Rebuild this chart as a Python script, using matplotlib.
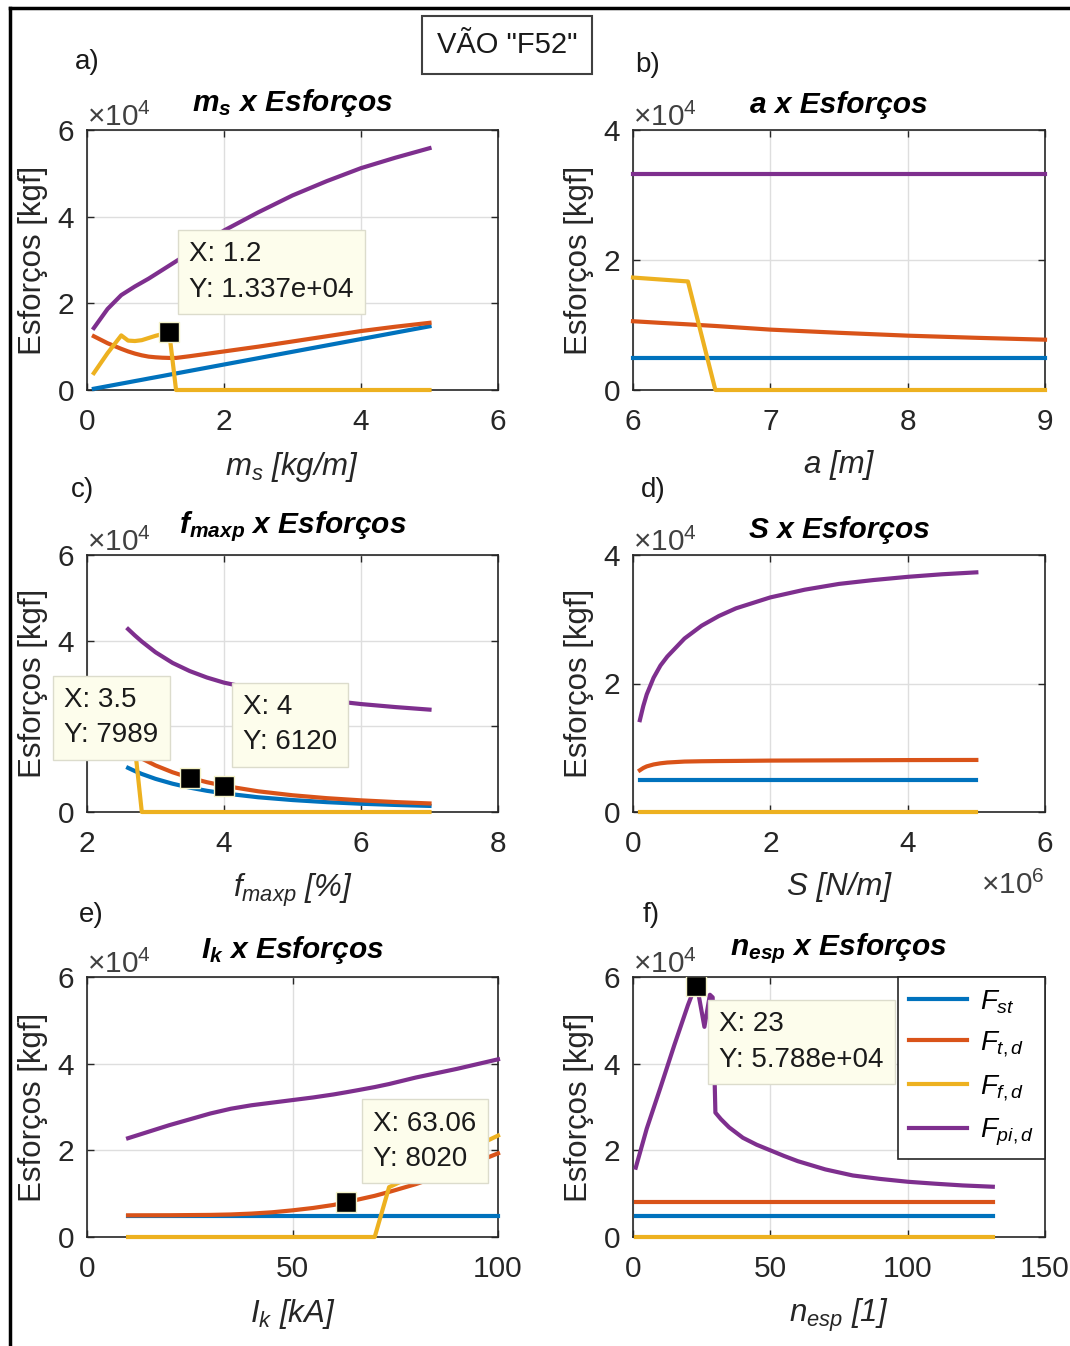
import matplotlib
matplotlib.use("Agg")
import matplotlib.pyplot as plt
from matplotlib.ticker import ScalarFormatter
from matplotlib.lines import Line2D

plt.rcParams['font.family'] = ['Liberation Sans', 'DejaVu Sans']
plt.rcParams['mathtext.fontset'] = 'custom'
plt.rcParams['mathtext.rm'] = 'Liberation Sans'
plt.rcParams['mathtext.it'] = 'Liberation Sans:italic'
plt.rcParams['mathtext.bf'] = 'Liberation Sans:bold'
plt.rcParams['mathtext.bfit'] = 'Liberation Sans:italic:bold'

# ---- data (kgf) ----
# a) m_s [kg/m]
ms = [0.1, 0.3, 0.5, 0.6, 0.7, 0.8, 0.9, 1.0, 1.1, 1.2, 1.3, 1.5, 2.0, 2.5, 3.0, 3.5, 4.0, 4.5, 5.0]
ms_st = [290, 880, 1470, 1760, 2060, 2350, 2650, 2940, 3230, 3530, 3820, 4410, 5880, 7350, 8820, 10290, 11760, 13230, 14700]
ms_td = [12400, 10800, 9500, 8900, 8400, 8000, 7700, 7550, 7450, 7400, 7400, 7800, 8900, 10000, 11200, 12400, 13600, 14600, 15500]
ms_fd = [3900, 8500, 12600, 11400, 11300, 11500, 12000, 12500, 12900, 13370, 0, 0, 0, 0, 0, 0, 0, 0, 0]
ms_pi = [14300, 18700, 21900, 22900, 23900, 24800, 25700, 26700, 27700, 28700, 29700, 31700, 36800, 41000, 44900, 48200, 51200, 53600, 55800]

# b) a [m]
a_m = [6.0, 6.2, 6.4, 6.6, 7.0, 7.5, 8.0, 8.5, 9.0]
a_st = [4950] * 9
a_td = [10580, 10330, 10100, 9850, 9290, 8800, 8360, 8030, 7740]
a_fd = [17300, 17000, 16700, 0, 0, 0, 0, 0, 0]
a_pi = [33300] * 9

# c) f_maxp [%]
fm = [2.6, 2.7, 2.8, 3.0, 3.25, 3.5, 3.75, 4.0, 4.5, 5.0, 5.5, 6.0, 6.5, 7.0]
fm_st = [10300, 9550, 8880, 7740, 6600, 5690, 4950, 4350, 3440, 2790, 2300, 1930, 1650, 1420]
fm_td = [14480, 13430, 12480, 10870, 9270, 7989, 6960, 6120, 4830, 3910, 3230, 2720, 2320, 2000]
fm_fd = [16000, 15000, 0, 0, 0, 0, 0, 0, 0, 0, 0, 0, 0, 0]
fm_pi = [42700, 41200, 39800, 37300, 34800, 32900, 31400, 30200, 28500, 27200, 26100, 25200, 24500, 23900]

# d) S [N/m]
S = [0.1e6, 0.15e6, 0.2e6, 0.3e6, 0.4e6, 0.5e6, 0.75e6, 1.0e6, 1.25e6, 1.5e6, 2.0e6, 2.5e6, 3.0e6,
     3.5e6, 4.0e6, 4.5e6, 5.0e6]
S_st = [4950] * 17
S_td = [6500, 6850, 7100, 7400, 7580, 7700, 7850, 7900, 7930, 7950, 8000, 8020, 8040, 8060, 8080, 8090, 8100]
S_fd = [0] * 17
S_pi = [14300, 16500, 18300, 20900, 22800, 24200, 27000, 29000, 30500, 31700, 33400, 34600, 35500,
        36100, 36600, 37000, 37300]

# e) I_k [kA]
ik = [10, 20, 30, 35, 40, 45, 50, 55, 60, 63.06, 66, 70, 73.5, 80, 90, 100]
ik_st = [4950] * 16
ik_td = [5000, 5020, 5100, 5200, 5400, 5700, 6150, 6700, 7400, 8020, 8650, 9500, 10400, 12200, 15500, 19300]
ik_fd = [0, 0, 0, 0, 0, 0, 0, 0, 0, 0, 0, 0, 11500, 14400, 18900, 23400]
ik_pi = [22800, 25800, 28500, 29600, 30400, 31000, 31600, 32200, 32900, 33400, 33900, 34600, 35300,
         36800, 38800, 41000]

# f) n_esp [1]
ne = [1, 5, 10, 15, 20, 22, 23, 24, 26, 28, 29, 30, 32, 35, 40, 45, 50, 55, 60, 70, 80, 90, 100, 110, 120, 131]
ne_st = [4950] * 26
ne_td = [8000] * 26
ne_fd = [0] * 26
ne_pi = [16000, 25000, 34500, 44200, 53500, 56800, 57880, 55500, 48500, 55900, 55300, 28700, 27200,
         25300, 22900, 21300, 20000, 18700, 17500, 15600, 14200, 13400, 12750, 12300, 11900, 11600]

# data tips (x, y)
tips_a = [(1.2, 13370)]
tips_c = [(3.5, 7989), (4.0, 6120)]
tips_e = [(63.06, 8020)]
tips_f = [(23, 57880)]

labels = [r'$F_{st}$', r'$F_{t,d}$', r'$F_{f,d}$', r'$F_{pi,d}$']
colors = ['#0072BD', '#D95319', '#EDB120', '#7E2F8E']

W, H = 1070, 1346
fig = plt.figure(figsize=(W / 100, H / 100), dpi=100)


def px_axes(l, t, r, b):
    return fig.add_axes([l / W, 1 - b / H, (r - l) / W, (b - t) / H])


def setup(ax, x, series, xlim, xticks, ylim, yticks, title, xlabel, sci_x=False):
    for ys, c, lab in zip(series, colors, labels):
        ax.plot(x, ys, color=c, lw=3, label=lab, clip_on=False, zorder=3)
    ax.set_xlim(xlim)
    ax.set_ylim(ylim)
    ax.set_xticks(xticks)
    ax.set_yticks(yticks)
    ax.grid(True, color='#dedede', lw=1)
    ax.set_axisbelow(True)
    for sp in ax.spines.values():
        sp.set_color('#262626')
        sp.set_linewidth(1.2)
    ax.tick_params(direction='in', length=5, width=1, colors='#262626', labelsize=21.5,
                   top=True, right=True)
    ax.tick_params(axis='x', pad=13)
    ax.tick_params(axis='y', pad=9)
    fmt = ScalarFormatter(useMathText=True)
    fmt.set_powerlimits((0, 0))
    ax.yaxis.set_major_formatter(fmt)
    ax.yaxis.get_offset_text().set_fontsize(21.5)
    ax.yaxis.get_offset_text().set_color('#404040')
    if sci_x:
        fx = ScalarFormatter(useMathText=True)
        fx.set_powerlimits((0, 0))
        ax.xaxis.set_major_formatter(fx)
        ax.xaxis.get_offset_text().set_visible(False)
        ax.text(1.0, -0.23, r'$\times\mathdefault{10^{6}}$', transform=ax.transAxes,
                ha='right', va='top', fontsize=21.5, color='#404040')
    ax.set_title(title, fontsize=21.5, fontweight='bold', fontstyle='italic', pad=8, va='bottom')
    ax.set_xlabel(xlabel, fontsize=22.5, fontstyle='italic', color='#262626', labelpad=10)
    ax.set_ylabel('Esforços [kgf]', fontsize=22.5, color='#262626')
    ax.yaxis.set_label_coords(-0.094, 0.5)


def datatip(ax, x, y, dx, dy, ha='left'):
    ax.plot([x], [y], marker='s', ms=14, mfc='black', mec='#f4f2c8', mew=1, ls='none', zorder=6)
    ax.annotate('X: %.4g\nY: %.4g' % (x, y), xy=(x, y), xytext=(dx, dy), textcoords='offset pixels',
                ha=ha, va='center', ma='left', fontsize=20, linespacing=1.47, color='#1a1a1a',
                annotation_clip=False, zorder=8,
                bbox=dict(boxstyle='square,pad=0.4', fc='#fdfdec', ec='#dcdccc', lw=1))


ax_a = px_axes(87, 130, 498, 390)
setup(ax_a, ms, [ms_st, ms_td, ms_fd, ms_pi], (0, 6), [0, 2, 4, 6], (0, 6e4), [0, 2e4, 4e4, 6e4],
      r'$\mathbfit{m_s}$ x Esforços', r'$m_s$ [kg/m]')
for (x, y) in tips_a:
    datatip(ax_a, x, y, 20, 60)

ax_b = px_axes(633, 130, 1045, 390)
setup(ax_b, a_m, [a_st, a_td, a_fd, a_pi], (6, 9), [6, 7, 8, 9], (0, 4e4), [0, 2e4, 4e4],
      'a x Esforços', 'a [m]')

ax_c = px_axes(87, 555, 498, 812)
setup(ax_c, fm, [fm_st, fm_td, fm_fd, fm_pi], (2, 8), [2, 4, 6, 8], (0, 6e4), [0, 2e4, 4e4, 6e4],
      r'$\mathbfit{f_{maxp}}$ x Esforços', r'$f_{maxp}$ [%]')
datatip(ax_c, *tips_c[0], -31, 60, ha='right')
datatip(ax_c, *tips_c[1], 19, 61)

ax_d = px_axes(633, 555, 1045, 812)
setup(ax_d, S, [S_st, S_td, S_fd, S_pi], (0, 6e6), [0, 2e6, 4e6, 6e6], (0, 4e4), [0, 2e4, 4e4],
      'S x Esforços', 'S [N/m]', sci_x=True)

ax_e = px_axes(87, 977, 498, 1237)
setup(ax_e, ik, [ik_st, ik_td, ik_fd, ik_pi], (0, 100), [0, 50, 100], (0, 6e4), [0, 2e4, 4e4, 6e4],
      r'$\mathbfit{I_k}$ x Esforços', r'$I_k$ [kA]')
for (x, y) in tips_e:
    datatip(ax_e, x, y, 27, 61)

ax_f = px_axes(633, 977, 1045, 1237)
setup(ax_f, ne, [ne_st, ne_td, ne_fd, ne_pi], (0, 150), [0, 50, 100, 150], (0, 6e4), [0, 2e4, 4e4, 6e4],
      r'$\mathbfit{n_{esp}}$ x Esforços', r'$n_{esp}$ [1]')
for (x, y) in tips_f:
    datatip(ax_f, x, y, 23, -56)
leg = ax_f.legend(loc='upper right', borderaxespad=0, fancybox=False, framealpha=1,
                  edgecolor='#262626', fontsize=20, handlelength=2.1, labelspacing=0.5,
                  handletextpad=0.45, borderpad=0.4)
leg.get_frame().set_linewidth(1.2)
leg.set_zorder(10)

# panel letters
for txt, (px, py) in zip(['a)', 'b)', 'c)', 'd)', 'e)', 'f)'],
                         [(87, 62), (648, 65), (83, 490), (653, 490), (91, 915), (651, 915)]):
    fig.text(px / W, 1 - py / H, txt, fontsize=20, ha='center', va='center', color='#1a1a1a')

fig.text(507 / W, 1 - 45 / H, 'VÃO "F52"', fontsize=21, ha='center', va='center', color='#1a1a1a',
         bbox=dict(boxstyle='square,pad=0.5', fc='white', ec='#404040', lw=1.5))

# outer frame (top and left edges visible)
fig.add_artist(Line2D([10 / W, 1], [1 - 8 / H, 1 - 8 / H], transform=fig.transFigure, color='black', lw=2.5))
fig.add_artist(Line2D([10 / W, 10 / W], [0, 1 - 8 / H], transform=fig.transFigure, color='black', lw=2.5))

fig.savefig('out.png', dpi=100)
